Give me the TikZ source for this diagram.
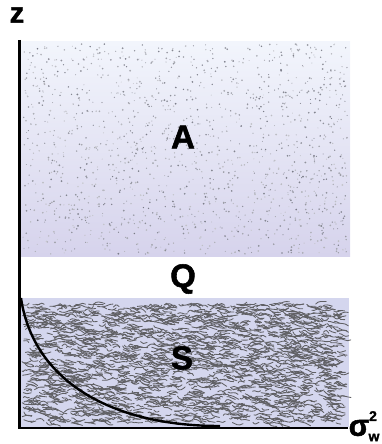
\documentclass[tikz,border=0pt]{standalone}
\usepackage{fontspec}
\setmainfont{Liberation Sans}
\newfontfamily\heavy{Liberation Sans Bold}[FakeBold=1.6]
\usepackage{xcolor}
\usetikzlibrary{positioning}

\definecolor{atop}{HTML}{F2F5FC}
\definecolor{abot}{HTML}{D6D3EC}
\definecolor{sfill}{HTML}{D4D6EE}
\definecolor{speck}{HTML}{70727F}
\definecolor{squigc}{HTML}{606064}

\begin{document}
\begin{tikzpicture}[
  x=1pt, y=-1pt,
  axis/.style  = {line width=2.4pt, black},
  big/.style   = {font=\fontsize{33}{33}\selectfont\heavy, inner sep=0pt},
  small/.style = {font=\fontsize{14}{14}\selectfont\heavy, inner sep=0pt},
  squig/.style = {line width=0.85pt, squigc, line cap=round},
]
\useasboundingbox (0,0) rectangle (382,444);
\pgfmathsetseed{4711}

%% ── Region A: aerosol layer with speckles ─────────────────────────────────
\shade[top color=atop, bottom color=abot] (21,42) rectangle (350,256);
\foreach \i in {1,...,1500}{
  \pgfmathsetmacro\dx{23+325*rnd}
  \pgfmathsetmacro\dy{44+210*rnd}
  \pgfmathsetmacro\dr{0.45+0.55*rnd}
  \pgfmathtruncatemacro\dk{40+55*rnd}
  \fill[speck!\dk!white] (\dx,\dy) circle[radius=\dr pt];
}

%% ── Region S: shaded layer with squiggles ─────────────────────────────────
\fill[sfill] (21,298) rectangle (349,427);
\foreach \i in {1,...,2300}{
  \pgfmathsetmacro\sx{22+318*rnd}
  \pgfmathsetmacro\sy{304+119*rnd}
  \pgfmathsetmacro\sa{-25+40*rnd}
  \pgfmathsetmacro\sl{0.45+0.7*rnd}
  \pgfmathsetmacro\sc{-3.5+7*rnd}
  \pgfmathsetmacro\sd{-3.5+7*rnd}
  \draw[squig, shift={(\sx,\sy)}, rotate=\sa, xscale=\sl]
    (0,0) .. controls (3,\sc) and (6,\sd) .. (10,0);
}

%% ── Axes ──────────────────────────────────────────────────────────────────
\coordinate (ztop)   at (19.5,40);
\coordinate (origin) at (19.5,428);
\coordinate (xend)   at (348,428);
\coordinate (cstart) at (21,298);
\coordinate (cend)   at (220,426);
\draw[axis] (ztop) -- (origin) -- (xend);

%% ── Curve ─────────────────────────────────────────────────────────────────
\draw[line width=2.4pt, black]
  (cstart) .. controls (33,380) and (110,426) .. (cend);

%% ── Labels ────────────────────────────────────────────────────────────────
\node[font=\fontsize{29}{29}\selectfont\heavy, inner sep=0pt] (zlbl) at (17,15) {z};
\node[big] (albl) at (183,137) {A};
\node[big] (qlbl) at (183,279) {Q};
\node[big] (slbl) at (182,358) {S};
\node[font=\fontsize{30}{30}\selectfont\heavy, inner sep=0pt] (sig) at (359,428) {σ};
\node[small] (sup) at (373,416) {2};
\node[small] (sub) at (374,437.5) {w};

\end{tikzpicture}
\end{document}
